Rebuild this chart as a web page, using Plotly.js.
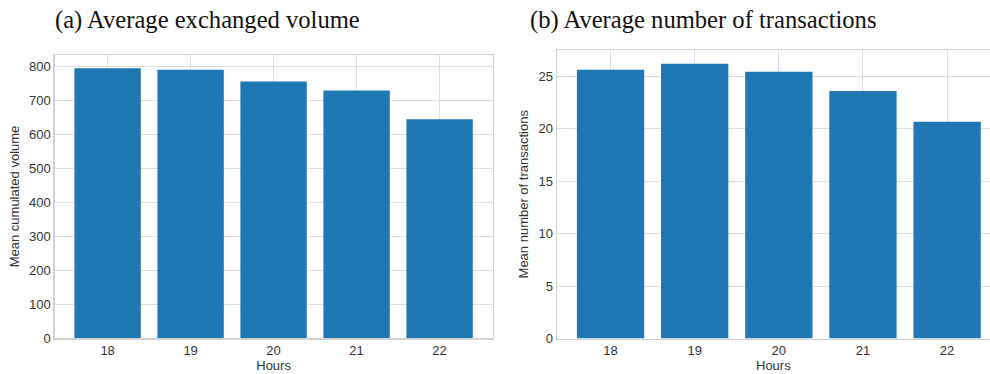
<!DOCTYPE html>
<html>
<head>
<meta charset="utf-8">
<script src="https://cdn.plot.ly/plotly-3.0.1.min.js"></script>
<style>html,body{margin:0;padding:0;background:#fff;}#chart{width:990px;height:374px;}</style>
</head>
<body>
<div id="chart"></div>
<script>
const hours = [18, 19, 20, 21, 22];
const hourLabels = ['18', '19', '20', '21', '22'];
const volume = [794, 790, 755, 729, 644];
const transactions = [25.62, 26.19, 25.43, 23.6, 20.65];
const titleA = '(a) Average exchanged volume';
const titleB = '(b) Average number of transactions';
const ylabelA = 'Mean cumulated volume';
const ylabelB = 'Mean number of transactions';
const xlabel = 'Hours';

const W = 990, H = 374;
const px = v => v / W;
const py = v => 1 - v / H;

const barColor = '#1f77b4';
const gridColor = '#dedede';
const lineColor = '#d0d0d0';
const tickFont = {family: 'Liberation Sans, Arial, sans-serif', size: 13, color: '#333333'};
const labelFont = {family: 'Liberation Sans, Arial, sans-serif', size: 13, color: '#333333'};

const traces = [
  {type: 'bar', x: hours, y: volume, xaxis: 'x', yaxis: 'y', width: 0.8,
   marker: {color: barColor, line: {width: 0}}, hoverinfo: 'x+y'},
  {type: 'bar', x: hours, y: transactions, xaxis: 'x2', yaxis: 'y2', width: 0.8,
   marker: {color: barColor, line: {width: 0}}, hoverinfo: 'x+y'}
];

const xCommon = {
  tickmode: 'array', tickvals: hours, ticktext: hourLabels,
  showgrid: true, gridcolor: gridColor, gridwidth: 1,
  showline: true, linecolor: lineColor, linewidth: 1.2, mirror: true,
  ticks: '', tickfont: tickFont, zeroline: false, fixedrange: true
};
const yCommon = {
  showgrid: true, gridcolor: gridColor, gridwidth: 1,
  showline: true, linecolor: lineColor, linewidth: 1.2,
  ticks: '', tickfont: tickFont, zeroline: false, fixedrange: true
};

const layout = {
  width: W, height: H,
  margin: {l: 0, r: 0, t: 0, b: 0},
  paper_bgcolor: '#ffffff', plot_bgcolor: '#ffffff',
  showlegend: false,
  bargap: 0.2,
  xaxis: Object.assign({}, xCommon, {
    domain: [px(54.5), px(492.7)], range: [17.36, 22.64], anchor: 'y',
    title: {text: xlabel, font: labelFont, standoff: 3}
  }),
  yaxis: Object.assign({}, yCommon, {
    domain: [py(338.3), py(54.7)], range: [0, 834], anchor: 'x', mirror: true,
    tickvals: [0, 100, 200, 300, 400, 500, 600, 700, 800],
    title: {text: ylabelA, font: labelFont, standoff: 6}
  }),
  xaxis2: Object.assign({}, xCommon, {
    domain: [px(556.7), 1], range: [17.36, 22.51], anchor: 'y2', mirror: 'allticks',
    title: {text: xlabel, font: labelFont, standoff: 3}
  }),
  yaxis2: Object.assign({}, yCommon, {
    domain: [py(338.5), py(50)], range: [0, 27.5], anchor: 'x2', mirror: false,
    tickvals: [0, 5, 10, 15, 20, 25],
    title: {text: ylabelB, font: labelFont, standoff: 6}
  }),
  annotations: [
    {text: titleA, xref: 'paper', yref: 'paper', x: px(53), y: py(20), xanchor: 'left', yanchor: 'middle',
     showarrow: false, font: {family: 'Liberation Serif, Times New Roman, serif', size: 24.6, color: '#111111'}},
    {text: titleB, xref: 'paper', yref: 'paper', x: px(528), y: py(20), xanchor: 'left', yanchor: 'middle',
     showarrow: false, font: {family: 'Liberation Serif, Times New Roman, serif', size: 24.6, color: '#111111'}}
  ]
};

Plotly.newPlot('chart', traces, layout, {displayModeBar: false, staticPlot: true});
</script>
</body>
</html>
